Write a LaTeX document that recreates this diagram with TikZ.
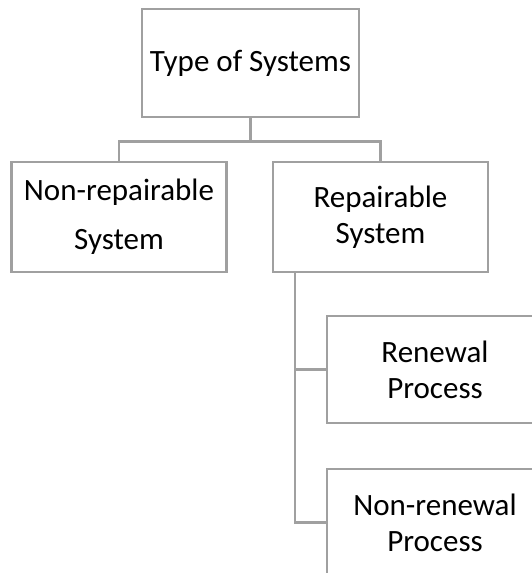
\documentclass[tikz,border=0pt]{standalone}
\usepackage{fontspec}
\setmainfont{Carlito}
\definecolor{boxgray}{RGB}{160,160,160}
\begin{document}
\begin{tikzpicture}[x=1pt, y=-1pt,
  box/.style={draw=boxgray, line width=2.6pt, fill=white, inner sep=0pt,
    align=center, font=\fontsize{31}{36}\selectfont},
  link/.style={draw=boxgray, line width=2.6pt}]
\useasboundingbox (0,0) rectangle (532,573);
\clip (0,0) rectangle (532,573);
% top level
\node[box, minimum width=217, minimum height=108] (root) at (250.5,63) {Type of Systems};
% second level
\node[box, minimum width=215, minimum height=110] (nonrep) at (119,217) {Non-repairable\\[13pt]System};
\node[box, minimum width=215, minimum height=110] (rep) at (380.5,217) {Repairable\\System};
% third level, under the repairable branch
\node[box, minimum width=216, minimum height=107] (renew) at (435,369.5) {Renewal\\Process};
\node[box, minimum width=216, minimum height=107] (nonrenew) at (435,522.5) {Non-renewal\\Process};
% connectors
\draw[link] (root.south) -- ++(0,23) -| (nonrep.north);
\draw[link] (root.south) -- ++(0,23) -| (rep.north);
\coordinate (trunk) at (295,272);
\draw[link] (trunk) |- (renew.west);
\draw[link] (trunk) |- (nonrenew.west);
\end{tikzpicture}
\end{document}
